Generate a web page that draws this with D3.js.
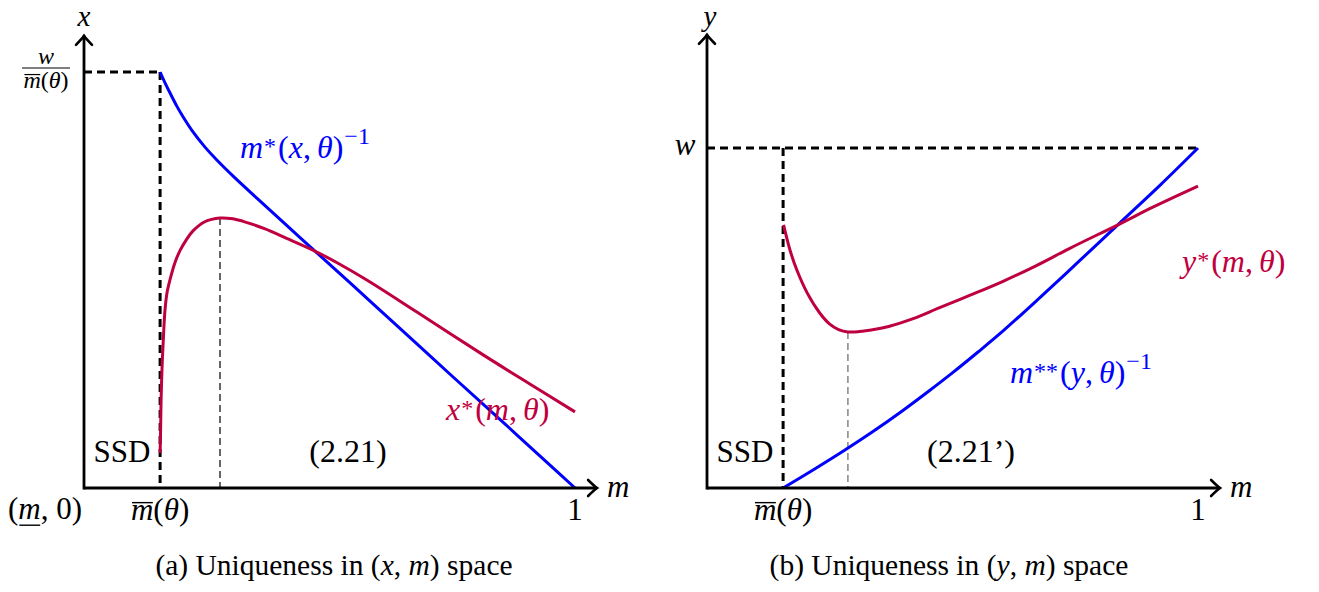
<!DOCTYPE html>
<html><head><meta charset="utf-8">
<script src="https://cdn.jsdelivr.net/npm/d3@7"></script>
<style>
body{margin:0;background:#fff}
svg{display:block}
</style>
</head><body>
<svg id="c" width="1319" height="592" font-family="'Liberation Serif', 'Times New Roman', Tinos, 'DejaVu Serif', serif"></svg>
<script>
// ---------- data ----------
const mBar = 0.155;
const leftBlueM = [0.155,0.165,0.175,0.189,0.202,0.222,0.246,0.271,0.308,0.352,0.440,0.542,0.644,0.745,0.847,0.949,1.0];
const leftBlueX = [1.0,0.974,0.950,0.918,0.892,0.856,0.820,0.788,0.745,0.697,0.602,0.493,0.383,0.274,0.165,0.055,0.0];
const leftRedM = [0.155,0.156,0.157,0.159,0.162,0.165,0.169,0.175,0.185,0.196,0.208,0.222,0.246,0.277,0.303,0.332,0.369,0.405,0.466,0.521,0.576,0.678,0.813,0.908,1.0];
const leftRedX = [0.084,0.139,0.211,0.291,0.368,0.428,0.469,0.500,0.541,0.572,0.596,0.618,0.640,0.649,0.647,0.638,0.623,0.604,0.572,0.538,0.500,0.423,0.320,0.250,0.183];
const rightBlueM = [0.155,0.216,0.277,0.338,0.399,0.450,0.501,0.552,0.603,0.678,0.760,0.841,0.923,1.0];
const rightBlueY = [0.0,0.053,0.108,0.166,0.228,0.283,0.340,0.400,0.462,0.560,0.670,0.780,0.891,1.0];
const rightRedM = [0.156,0.169,0.183,0.204,0.230,0.250,0.268,0.287,0.310,0.340,0.370,0.420,0.470,0.536,0.603,0.672,0.739,0.841,0.908,1.0];
const rightRedY = [0.774,0.700,0.641,0.574,0.514,0.482,0.466,0.459,0.460,0.466,0.475,0.498,0.528,0.567,0.608,0.655,0.705,0.777,0.826,0.888];
const mTickLabels = ["m̄(θ)", "1"];

const BLUE = "#0000ff", RED = "#bf0040";

const svg = d3.select("#c");

// ---------- scales ----------
const xL = d3.scaleLinear().domain([0,1]).range([84,575]);
const yL = d3.scaleLinear().domain([0,1]).range([488,72]);
const xR = d3.scaleLinear().domain([0,1]).range([707,1198]);
const yR = d3.scaleLinear().domain([0,1]).range([488,148]);

// ---------- helpers ----------
function mtext(parent, x, y, parts, opt={}) {
  const size = opt.size || 31;
  const t = parent.append("text").attr("x", x).attr("y", y)
    .attr("font-size", size).attr("fill", opt.color || "#000")
    .attr("text-anchor", opt.anchor || "start");
  let shift = 0;
  const decos = [];
  parts.forEach(p => {
    if (typeof p === "string") p = {t: p};
    const target = p.sup ? -(p.lift || 0.4)*size : (p.sub ? 0.2*size : 0);
    const ts = t.append("tspan").text(p.t);
    if (target - shift !== 0) ts.attr("dy", target - shift);
    shift = target;
    if (p.it) ts.attr("font-style", "italic");
    if (p.sup || p.sub) ts.attr("font-size", size*(p.scale || 0.7));
    if (p.dx) ts.attr("dx", p.dx);
    if (p.over || p.under) decos.push([ts, p]);
  });
  decos.forEach(([ts, p]) => {
    const b = ts.node().getBBox();
    const ly = p.over ? y - 0.56*size : y + 0.2*size;
    parent.append("line").attr("x1", b.x + 1).attr("x2", b.x + b.width - 0.5)
      .attr("y1", ly).attr("y2", ly).attr("stroke", opt.color || "#000")
      .attr("stroke-width", Math.max(1.2, size/22));
  });
  return t;
}
function arrowHead(g, x, y, dir) {
  const p = d3.path();
  if (dir === "up") {
    p.moveTo(x-8, y+9); p.quadraticCurveTo(x-2, y+3, x, y);
    p.quadraticCurveTo(x+2, y+3, x+8, y+9);
  } else {
    p.moveTo(x-9, y-8); p.quadraticCurveTo(x-3, y-2, x, y);
    p.quadraticCurveTo(x-3, y+2, x-9, y+8);
  }
  g.append("path").attr("d", p.toString()).attr("fill","none")
    .attr("stroke","#000").attr("stroke-width",2.6).attr("stroke-linecap","round");
}
function zip(a, b) { return a.map((v,i)=>[v, b[i]]); }

function panel(sx, sy, blueM, blueV, redM, redV, o) {
  const g = svg.append("g");
  const line = d3.line().x(d=>sx(d[0])).y(d=>sy(d[1])).curve(d3.curveCatmullRom.alpha(0.5));
  g.append("path").attr("d", d3.line()([[sx(0), sy(1)], [sx(o.hEnd), sy(1)]]))
    .attr("stroke","#000").attr("stroke-width",3).attr("stroke-dasharray","8,5").attr("fill","none");
  g.append("path").attr("d", d3.line()([[sx(mBar), sy(1)], [sx(mBar), sy(0)]]))
    .attr("stroke","#000").attr("stroke-width",3).attr("stroke-dasharray","8,5").attr("fill","none");
  const idx = o.extremum === "max" ? d3.maxIndex(redV) : d3.minIndex(redV);
  g.append("line").attr("x1", sx(redM[idx])).attr("x2", sx(redM[idx]))
    .attr("y1", sy(redV[idx])).attr("y2", sy(0))
    .attr("stroke", o.thinColor).attr("stroke-width",1.2).attr("stroke-dasharray","7,4");
  g.append("path").attr("d", line(zip(blueM, blueV))).attr("fill","none")
    .attr("stroke", BLUE).attr("stroke-width",3);
  g.append("path").attr("d", line(zip(redM, redV))).attr("fill","none")
    .attr("stroke", RED).attr("stroke-width",3);
  const x0 = sx(0), y0 = sy(0);
  const xTip = sx(o.xTip), yTip = sy(o.yTip);
  g.append("line").attr("x1", x0).attr("x2", x0).attr("y1", y0+1.4).attr("y2", yTip)
    .attr("stroke","#000").attr("stroke-width",2.8);
  g.append("line").attr("x1", x0).attr("x2", xTip).attr("y1", y0).attr("y2", y0)
    .attr("stroke","#000").attr("stroke-width",2.8);
  arrowHead(g, x0, yTip, "up");
  arrowHead(g, xTip, y0, "right");
  mtext(g, sx(mBar), 520, [{t:"m", it:true, over:true}, "(", {t:"θ", it:true}, ")"], {anchor:"middle"});
  mtext(g, sx(1), 520, [mTickLabels[1]], {anchor:"middle"});
  mtext(g, xTip + 10, 497, [{t:"m", it:true}]);
  return g;
}

const star = (s) => ({t:s, sup:true, lift:0.12, scale:0.75, dx:1});
const inv = {t:"−1", sup:true, lift:0.45, scale:0.75, dx:1};

// ---------- left panel ----------
const gL = panel(xL, yL, leftBlueM, leftBlueX, leftRedM, leftRedX,
  {hEnd: mBar, extremum: "max", thinColor: "#000", xTip: 1.045, yTip: 1.087});
mtext(gL, 84, 26, [{t:"x", it:true}], {anchor:"middle", size:29});
mtext(gL, 46, 64, [{t:"w", it:true}], {anchor:"middle", size:24});
gL.append("line").attr("x1",22).attr("x2",70).attr("y1",68).attr("y2",68).attr("stroke","#000").attr("stroke-width",1.1);
mtext(gL, 46, 88, [{t:"m", it:true, over:true}, "(", {t:"θ", it:true}, ")"], {anchor:"middle", size:24});
mtext(gL, 45, 519, ["(", {t:"m", it:true, under:true}, ", 0)"], {anchor:"middle"});
mtext(gL, 122, 462, ["SSD"], {anchor:"middle"});
mtext(gL, 348, 462, ["(2.21)"], {anchor:"middle", size:32});
mtext(gL, 240, 158, [{t:"m", it:true}, star("*"), {t:"(", dx:2}, {t:"x", it:true}, ",", {t:"θ", it:true, dx:6}, ")", inv], {color: BLUE, size:32});
mtext(gL, 446, 420, [{t:"x", it:true}, star("*"), {t:"(", dx:2}, {t:"m", it:true}, ",", {t:"θ", it:true, dx:6}, ")"], {color: RED, size:32});
mtext(svg, 334, 575, ["(a) Uniqueness in (", {t:"x", it:true}, ", ", {t:"m", it:true}, ") space"], {anchor:"middle", size:29.5});

// ---------- right panel ----------
const gR = panel(xR, yR, rightBlueM, rightBlueY, rightRedM, rightRedY,
  {hEnd: 1, extremum: "min", thinColor: "#666", xTip: 1.045, yTip: 1.333});
mtext(gR, 710, 26, [{t:"y", it:true}], {anchor:"middle", size:29});
mtext(gR, 685, 155, [{t:"w", it:true}], {anchor:"middle"});
mtext(gR, 745, 462, ["SSD"], {anchor:"middle"});
mtext(gR, 971, 462, ["(2.21’)"], {anchor:"middle", size:32});
mtext(gR, 1182, 272, [{t:"y", it:true}, star("*"), {t:"(", dx:2}, {t:"m", it:true}, ",", {t:"θ", it:true, dx:6}, ")"], {color: RED, size:32});
mtext(gR, 1010, 383, [{t:"m", it:true}, star("**"), {t:"(", dx:2}, {t:"y", it:true}, ",", {t:"θ", it:true, dx:6}, ")", inv], {color: BLUE, size:32});
mtext(svg, 949, 575, ["(b) Uniqueness in (", {t:"y", it:true}, ", ", {t:"m", it:true}, ") space"], {anchor:"middle", size:29.5});
</script>
</body></html>
